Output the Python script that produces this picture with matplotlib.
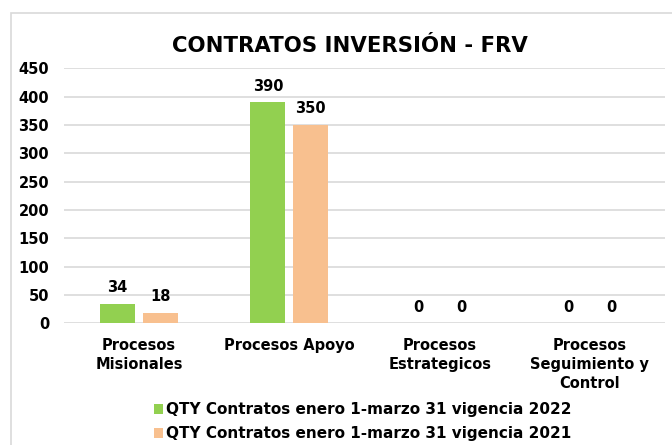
import matplotlib.pyplot as plt
import numpy as np
from matplotlib.patches import Rectangle

# datos
categorias = ["Procesos\nMisionales", "Procesos Apoyo", "Procesos\nEstrategicos",
              "Procesos\nSeguimiento y\nControl"]
qty_2022 = [34, 390, 0, 0]
qty_2021 = [18, 350, 0, 0]
serie_2022 = "QTY Contratos enero 1-marzo 31 vigencia 2022"
serie_2021 = "QTY Contratos enero 1-marzo 31 vigencia 2021"
yticks = [0, 50, 100, 150, 200, 250, 300, 350, 400, 450]

verde = "#92D050"
naranja = "#F8C08F"

plt.rcParams["font.family"] = ["DejaVu Sans"]
plt.rcParams["font.weight"] = "bold"

W, H = 672, 445
fig = plt.figure(figsize=(W / 100, H / 100), dpi=100)

# marco del grafico
fig.patches.append(Rectangle((11 / W, -0.1), 1.2, 1 - 13 / H + 0.1,
                             transform=fig.transFigure, fill=False,
                             edgecolor="#d9d9d9", linewidth=1.2))

ax = fig.add_axes([64 / W, 121.7 / H, 601 / W, 255 / H])

x = np.arange(len(categorias))
ancho = 0.233
desp = 0.143

b1 = ax.bar(x - desp, qty_2022, ancho, color=verde, label=serie_2022, zorder=3)
b2 = ax.bar(x + desp, qty_2021, ancho, color=naranja, label=serie_2021, zorder=3)

for barras, vals in [(b1, qty_2022), (b2, qty_2021)]:
    for rect, v in zip(barras, vals):
        ax.annotate(str(v), (rect.get_x() + rect.get_width() / 2, v),
                    xytext=(0, 8.4), textcoords="offset points",
                    ha="center", va="baseline", fontsize=10.5,
                    fontweight="bold")

ax.set_xlim(-0.5, len(categorias) - 0.5)
ax.set_ylim(0, 450)
ax.set_yticks(yticks)
ax.set_yticklabels([str(t) for t in yticks], fontsize=10.5, fontweight="bold")
ax.set_xticks(x)
ax.set_xticklabels(categorias, fontsize=10.5, fontweight="bold",
                   linespacing=1.32)
ax.tick_params(axis="both", length=0)
ax.tick_params(axis="y", pad=10.8)
ax.tick_params(axis="x", pad=10.5)
ax.yaxis.grid(True, color="#d9d9d9", linewidth=1.2, zorder=0)
ax.set_axisbelow(True)
for s in ax.spines.values():
    s.set_visible(False)

fig.text(350 / W, 1 - 51.7 / H, "CONTRATOS INVERSIÓN - FRV",
         ha="center", va="baseline", fontsize=15.3, fontweight="bold")

fig.legend(handles=[b1, b2], loc="upper left",
           bbox_to_anchor=(154 / W, 1 - 402 / H), frameon=False,
           fontsize=11, handlelength=0.62, handleheight=0.62,
           handletextpad=0.15, labelspacing=0.6, borderpad=0,
           borderaxespad=0)

fig.savefig("out.png", dpi=100)
